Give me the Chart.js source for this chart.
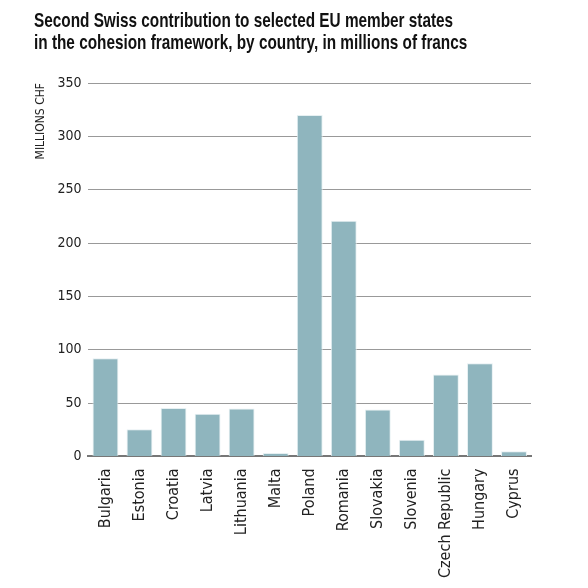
<!DOCTYPE html>
<html>
<head>
<meta charset="utf-8">
<script src="https://cdn.jsdelivr.net/npm/chart.js@4"></script>
<style>
  html, body { margin: 0; padding: 0; background: #fff; }
  #wrap { width: 588px; height: 588px; position: relative; }
  #title {
    position: absolute; left: 34px; top: 9px;
    font-family: "Liberation Sans", sans-serif;
    font-weight: bold; font-size: 21px; line-height: 22px; color: #111;
    transform: scaleX(0.73); transform-origin: left top; white-space: nowrap;
  }
</style>
</head>
<body>
<div id="wrap">
  <div id="title">Second Swiss contribution to selected EU member states<br>in the cohesion framework, by country, in millions of francs</div>
  <canvas id="contribChart"></canvas>
</div>
<script>
// Second Swiss contribution, millions CHF
const countries = ['Bulgaria', 'Estonia', 'Croatia', 'Latvia', 'Lithuania', 'Malta', 'Poland',
    'Romania', 'Slovakia', 'Slovenia', 'Czech Republic', 'Hungary', 'Cyprus'];
const amounts = [92, 25.6, 45.3, 40, 45, 3.2, 320, 221, 44, 15.6, 76.8, 87.4, 5];
const yTicks = [0, 50, 100, 150, 200, 250, 300, 350];

const FONT = '"Liberation Sans Narrow", "DejaVu Sans Condensed", "Liberation Sans", sans-serif';

const ctx = document.getElementById('contribChart').getContext('2d');
new Chart(ctx, {
    type: 'bar',
    data: {
        labels: countries,
        datasets: [{
            data: amounts,
            backgroundColor: '#8fb5be',
            borderColor: '#e6f0f2',
            borderWidth: { top: 1, left: 1, right: 1, bottom: 0 },
            barPercentage: 0.76,
            categoryPercentage: 1
        }]
    },
    options: {
        responsive: true,
        maintainAspectRatio: false,
        animation: false,
        layout: {
            padding: { left: 34, right: 57, top: 83, bottom: 6 }
        },
        plugins: {
            legend: { display: false },
            tooltip: { enabled: false },
            title: { display: false }
        },
        scales: {
            x: {
                grid: { display: false },
                border: { display: true, color: '#777', width: 2 },
                ticks: {
                    color: '#222',
                    minRotation: 90,
                    maxRotation: 90,
                    autoSkip: false,
                    padding: 4,
                    font: { family: FONT, size: 16 }
                }
            },
            y: {
                min: 0,
                max: 350,
                afterBuildTicks: axis => {
                    axis.ticks = yTicks.map(v => ({ value: v }));
                },
                grid: {
                    color: '#999',
                    lineWidth: 1,
                    drawTicks: false
                },
                border: { display: false },
                ticks: {
                    color: '#222',
                    padding: 7,
                    font: { family: FONT, size: 14 }
                },
                title: {
                    display: true,
                    text: 'MILLIONS CHF',
                    align: 'end',
                    color: '#222',
                    padding: { top: 0, bottom: 2 },
                    font: { family: FONT, size: 12 }
                }
            }
        }
    }
});
</script>
</body>
</html>
